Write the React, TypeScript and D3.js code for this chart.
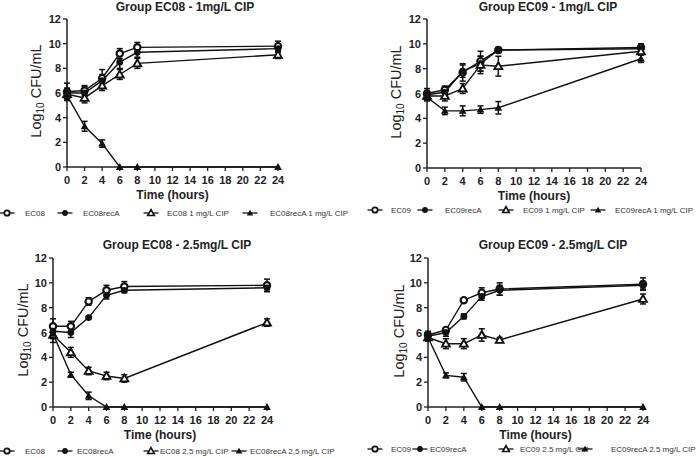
import React from 'react';
import * as d3 from 'd3';

// ---------- shared ----------
const hours = [0, 2, 4, 6, 8, 24];
const xTickValues = [0, 2, 4, 6, 8, 10, 12, 14, 16, 18, 20, 22, 24];
const yTickValues = [0, 2, 4, 6, 8, 10, 12];
const xAxisTitle = 'Time (hours)';
const markerKinds = ['openCircle', 'filledCircle', 'openTriangle', 'filledTriangle'];

// ---------- Panel A: EC08 1 mg/L ----------
const titleA = 'Group EC08 - 1mg/L CIP';
const namesA = ['EC08', 'EC08recA', 'EC08 1 mg/L CIP', 'EC08recA 1 mg/L CIP'];
const a_ctrl = [6.1, 6.2, 7.2, 9.2, 9.7, 9.8];
const a_ctrlErr = [0.7, 0.4, 0.7, 0.4, 0.4, 0.4];
const a_recA = [6.0, 6.0, 7.0, 8.5, 9.3, 9.6];
const a_recAErr = [0.4, 0.5, 0.5, 0.5, 0.4, 0.3];
const a_cip = [5.9, 5.6, 6.6, 7.5, 8.4, 9.1];
const a_cipErr = [0.4, 0.4, 0.4, 0.4, 0.4, 0.3];
const a_recACip = [5.8, 3.3, 1.9, 0, 0, 0];
const a_recACipErr = [0.4, 0.4, 0.3, 0, 0, 0];

// ---------- Panel B: EC09 1 mg/L ----------
const titleB = 'Group EC09 - 1mg/L CIP';
const namesB = ['EC09', 'EC09recA', 'EC09 1 mg/L CIP', 'EC09recA 1 mg/L CIP'];
const b_ctrl = [6.0, 6.3, 7.7, 8.6, 9.5, 9.7];
const b_ctrlErr = [0.4, 0.3, 0.7, 0.8, 0.2, 0.3];
const b_recA = [5.9, 6.1, 7.8, 8.4, 9.5, 9.6];
const b_recAErr = [0.3, 0.3, 0.5, 0.6, 0.2, 0.3];
const b_cip = [5.8, 5.8, 6.4, 8.3, 8.2, 9.4];
const b_cipErr = [0.3, 0.4, 0.4, 0.7, 0.8, 0.3];
const b_recACip = [5.7, 4.6, 4.6, 4.7, 4.85, 8.8];
const b_recACipErr = [0.3, 0.3, 0.4, 0.3, 0.5, 0.3];

// ---------- Panel C: EC08 2.5 mg/L ----------
const titleC = 'Group EC08 - 2.5mg/L CIP';
const namesC = ['EC08', 'EC08recA', 'EC08 2,5 mg/L CIP', 'EC08recA 2,5 mg/L CIP'];
const c_ctrl = [6.5, 6.5, 8.5, 9.4, 9.7, 9.8];
const c_ctrlErr = [0.6, 0.4, 0.3, 0.4, 0.4, 0.5];
const c_recA = [6.1, 6.0, 7.2, 9.0, 9.4, 9.6];
const c_recAErr = [0.5, 0.4, 0.1, 0.3, 0.2, 0.3];
const c_cip = [5.8, 4.4, 2.9, 2.5, 2.3, 6.8];
const c_cipErr = [0.6, 0.4, 0.3, 0.3, 0.3, 0.3];
const c_recACip = [5.9, 2.6, 0.9, 0, 0, 0];
const c_recACipErr = [0.4, 0.2, 0.3, 0, 0, 0];

// ---------- Panel D: EC09 2.5 mg/L ----------
const titleD = 'Group EC09 - 2.5mg/L CIP';
const namesD = ['EC09', 'EC09recA', 'EC09 2.5 mg/L CIP', 'EC09recA 2.5 mg/L CIP'];
const d_ctrl = [5.8, 6.2, 8.6, 9.2, 9.5, 9.9];
const d_ctrlErr = [0.3, 0.2, 0.2, 0.4, 0.5, 0.5];
const d_recA = [5.7, 6.0, 7.3, 8.9, 9.4, 9.8];
const d_recAErr = [0.3, 0.3, 0.2, 0.3, 0.4, 0.3];
const d_cip = [5.6, 5.1, 5.1, 5.8, 5.4, 8.7];
const d_cipErr = [0.3, 0.4, 0.4, 0.5, 0.2, 0.4];
const d_recACip = [5.6, 2.55, 2.4, 0, 0, 0];
const d_recACipErr = [0.3, 0.2, 0.3, 0, 0, 0];

type PanelCfg = {
  title: string;
  names: string[];
  values: number[][];
  errors: number[][];
  left: number; right: number; top: number; bottom: number;
  titleX: number; titleY: number;
  ylabX: number; ylabCY: number;
  legendY: number;
  legendMarkX: number[];
  legendTextX: number[];
};

const panels: PanelCfg[] = [
  {
    title: titleA, names: namesA,
    values: [a_ctrl, a_recA, a_cip, a_recACip],
    errors: [a_ctrlErr, a_recAErr, a_cipErr, a_recACipErr],
    left: 67, right: 278, top: 19, bottom: 167,
    titleX: 185, titleY: 11, ylabX: 36, ylabCY: 91, legendY: 213,
    legendMarkX: [7, 65, 151, 250], legendTextX: [25, 83, 167, 270],
  },
  {
    title: titleB, names: namesB,
    values: [b_ctrl, b_recA, b_cip, b_recACip],
    errors: [b_ctrlErr, b_recAErr, b_cipErr, b_recACipErr],
    left: 427, right: 641, top: 19, bottom: 168,
    titleX: 548, titleY: 11, ylabX: 396, ylabCY: 92, legendY: 210,
    legendMarkX: [375, 425, 506, 598], legendTextX: [391, 445, 523, 615],
  },
  {
    title: titleC, names: namesC,
    values: [c_ctrl, c_recA, c_cip, c_recACip],
    errors: [c_ctrlErr, c_recAErr, c_cipErr, c_recACipErr],
    left: 53, right: 267, top: 258, bottom: 407,
    titleX: 177, titleY: 249, ylabX: 23, ylabCY: 330, legendY: 451,
    legendMarkX: [7, 65, 151, 239], legendTextX: [25, 77, 160, 250],
  },
  {
    title: titleD, names: namesD,
    values: [d_ctrl, d_recA, d_cip, d_recACip],
    errors: [d_ctrlErr, d_recAErr, d_cipErr, d_recACipErr],
    left: 428, right: 643, top: 258, bottom: 407,
    titleX: 553, titleY: 249, ylabX: 399, ylabCY: 331, legendY: 449,
    legendMarkX: [375, 420, 506, 585], legendTextX: [391, 430, 520, 611],
  },
];

const FONT = '"Liberation Sans", Arial, Helvetica, sans-serif';

function Marker({ kind, x, y, k = 1 }: { kind: string; x: number; y: number; k?: number }) {
  if (kind === 'openCircle') {
    return <circle cx={x} cy={y} r={3.2 * k} fill="#fff" stroke="#111" strokeWidth={2.1 * k} />;
  }
  if (kind === 'filledCircle') {
    return <circle cx={x} cy={y} r={3.4 * k} fill="#111" />;
  }
  const s = 3.9 * k;
  const pts = `${x},${y - s} ${x + s},${y + s * 0.75} ${x - s},${y + s * 0.75}`;
  if (kind === 'openTriangle') {
    return <polygon points={pts} fill="#fff" stroke="#111" strokeWidth={1.9 * k} strokeLinejoin="miter" />;
  }
  return <polygon points={pts} fill="#111" />;
}

function Panel({ cfg }: { cfg: PanelCfg }) {
  const x = d3.scaleLinear().domain([0, 24]).range([cfg.left, cfg.right]);
  const y = d3.scaleLinear().domain([0, 12]).range([cfg.bottom, cfg.top]);
  const line = d3.line<number>().x((_, i) => x(hours[i])).y((v) => y(v));
  const cap = 3;
  return (
    <g>
      <text x={cfg.titleX} y={cfg.titleY} textAnchor="middle" fontFamily={FONT} fontWeight="bold" fontSize={12} fill="#222">
        {cfg.title}
      </text>
      {/* axes */}
      <line x1={cfg.left} x2={cfg.left} y1={y(12)} y2={y(0)} stroke="#222" strokeWidth={1.5} />
      <line x1={x(0)} x2={x(24)} y1={cfg.bottom} y2={cfg.bottom} stroke="#222" strokeWidth={1.5} />
      {yTickValues.map((t) => (
        <g key={'y' + t}>
          <line x1={cfg.left - 4} x2={cfg.left} y1={y(t)} y2={y(t)} stroke="#222" strokeWidth={1.3} />
          <text x={cfg.left - 6} y={y(t) + 4} textAnchor="end" fontFamily={FONT} fontWeight="bold" fontSize={11} fill="#222">
            {t}
          </text>
        </g>
      ))}
      {xTickValues.map((t) => (
        <g key={'x' + t}>
          <line x1={x(t)} x2={x(t)} y1={cfg.bottom} y2={cfg.bottom + 4} stroke="#222" strokeWidth={1.3} />
          <text x={x(t)} y={cfg.bottom + 17} textAnchor="middle" fontFamily={FONT} fontWeight="bold" fontSize={11} fill="#222">
            {t}
          </text>
        </g>
      ))}
      <text x={(cfg.left + cfg.right) / 2} y={cfg.bottom + 32} textAnchor="middle" fontFamily={FONT} fontWeight="bold" fontSize={12} fill="#222">
        {xAxisTitle}
      </text>
      <text
        transform={`translate(${cfg.ylabX + 5},${cfg.ylabCY}) rotate(-90)`}
        textAnchor="middle" fontFamily={FONT} fontSize={14.5} fill="#222"
      >
        Log<tspan fontSize={10} dy={3}>10</tspan><tspan dy={-3}> CFU/mL</tspan>
      </text>
      {/* series */}
      {cfg.values.map((vals, si) => (
        <g key={'s' + si}>
          <path d={line(vals) || ''} fill="none" stroke="#111" strokeWidth={1.4} />
          {vals.map((v, i) => {
            const e = cfg.errors[si][i];
            if (!e) return null;
            const cx = x(hours[i]);
            return (
              <g key={'e' + i} stroke="#111" strokeWidth={1.5}>
                <line x1={cx} x2={cx} y1={y(v - e)} y2={y(v + e)} />
                <line x1={cx - cap} x2={cx + cap} y1={y(v + e)} y2={y(v + e)} />
                <line x1={cx - cap} x2={cx + cap} y1={y(v - e)} y2={y(v - e)} />
              </g>
            );
          })}
        </g>
      ))}
      {cfg.values.map((vals, si) => (
        <g key={'m' + si}>
          {vals.map((v, i) => (
            <Marker key={i} kind={markerKinds[si]} x={x(hours[i])} y={y(v)} />
          ))}
        </g>
      ))}
      {/* legend */}
      {cfg.names.map((n, i) => (
        <g key={'l' + i}>
          <line x1={cfg.legendMarkX[i] - 7.5} x2={cfg.legendMarkX[i] + 7.5} y1={cfg.legendY} y2={cfg.legendY} stroke="#111" strokeWidth={1.3} />
          <Marker kind={markerKinds[i]} x={cfg.legendMarkX[i]} y={cfg.legendY} k={0.85} />
          <text x={cfg.legendTextX[i]} y={cfg.legendY + 3} fontFamily={FONT} fontSize={8} fill="#333">
            {n}
          </text>
        </g>
      ))}
    </g>
  );
}

export default function App() {
  return (
    <svg width={696} height={458} style={{ position: 'absolute', left: 0, top: 0, background: '#fff' }}>
      <rect width={696} height={458} fill="#fff" />
      {panels.map((p, i) => (
        <Panel key={i} cfg={p} />
      ))}
    </svg>
  );
}
